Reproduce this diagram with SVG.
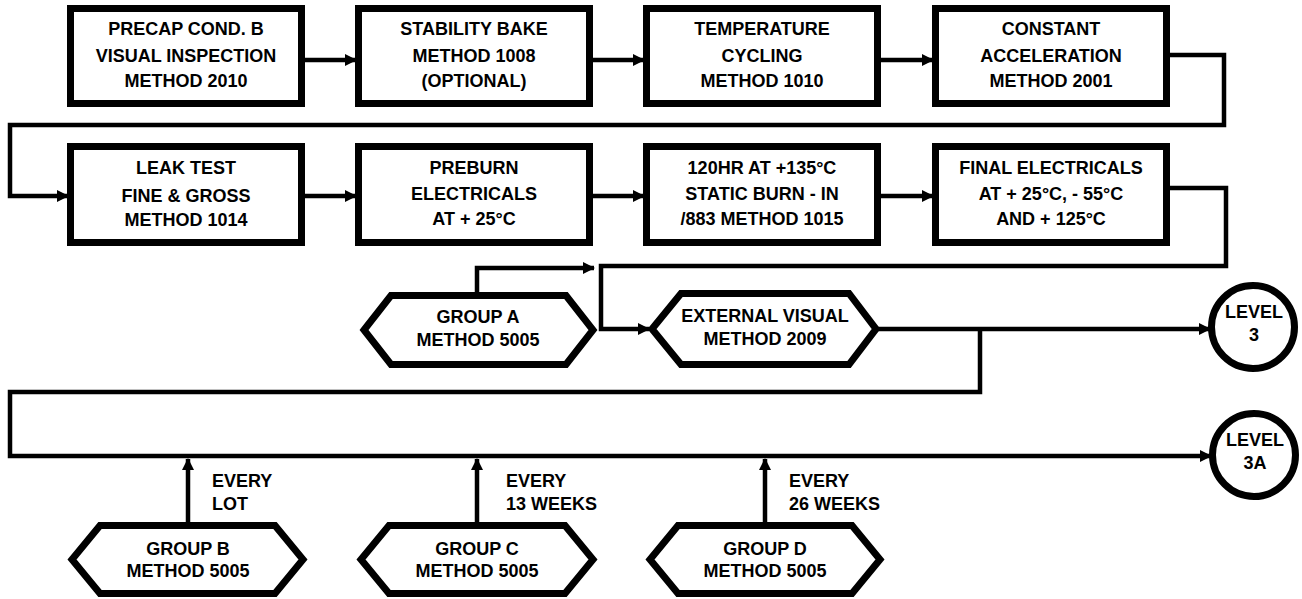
<svg xmlns="http://www.w3.org/2000/svg" width="1302" height="599" viewBox="0 0 1302 599">
<style>
.bg{fill:#fff}
.box{fill:#fff;stroke:#000;stroke-width:7}
.hex{fill:#fff;stroke:#000;stroke-width:7;stroke-linejoin:miter}
.circ{fill:#fff;stroke:#000;stroke-width:7}
.con{fill:none;stroke:#000;stroke-width:4.5}
.t{font-family:"Liberation Sans",Arial,Helvetica,sans-serif;font-weight:bold;font-size:18px;text-anchor:middle;fill:#000}
.l{font-family:"Liberation Sans",Arial,Helvetica,sans-serif;font-weight:bold;font-size:18px;text-anchor:start;fill:#000}
</style>
<defs>
<marker id="ah" viewBox="0 0 12 12" refX="11" refY="6" markerWidth="12" markerHeight="12" markerUnits="userSpaceOnUse" orient="auto">
<path d="M0,0 L12,6 L0,12 z" fill="#000"/>
</marker>
</defs>
<rect class="bg" x="0" y="0" width="1302" height="599"/>

<g id="connectors">
<line class="con" x1="305" y1="60" x2="356" y2="60" marker-end="url(#ah)"/>
<line class="con" x1="593" y1="60" x2="644" y2="60" marker-end="url(#ah)"/>
<line class="con" x1="881" y1="60" x2="933" y2="60" marker-end="url(#ah)"/>
<polyline class="con" points="1170,55 1224,55 1224,125 10,125 10,196 68,196" marker-end="url(#ah)"/>
<line class="con" x1="305" y1="196" x2="356" y2="196" marker-end="url(#ah)"/>
<line class="con" x1="593" y1="196" x2="644" y2="196" marker-end="url(#ah)"/>
<line class="con" x1="881" y1="196" x2="933" y2="196" marker-end="url(#ah)"/>
<polyline class="con" points="1170,188 1226,188 1226,266 601,266 601,329 649,329" marker-end="url(#ah)"/>
<polyline class="con" points="477,292 477,268 594,268" marker-end="url(#ah)"/>
<line class="con" x1="877" y1="329" x2="1210" y2="329" marker-end="url(#ah)"/>
<polyline class="con" points="980,329 980,392 10,392 10,456 1211,456" marker-end="url(#ah)"/>
<line class="con" x1="188" y1="522" x2="188" y2="459" marker-end="url(#ah)"/>
<line class="con" x1="477" y1="522" x2="477" y2="459" marker-end="url(#ah)"/>
<line class="con" x1="765" y1="522" x2="765" y2="459" marker-end="url(#ah)"/>
</g>

<g id="n1"><rect class="box" x="70.5" y="8.5" width="231" height="95"/>
<text class="t" x="186" y="35">PRECAP COND. B</text><text class="t" x="186" y="62">VISUAL INSPECTION</text><text class="t" x="186" y="87">METHOD 2010</text></g>
<g id="n2"><rect class="box" x="358.5" y="8.5" width="231" height="95"/>
<text class="t" x="474" y="35">STABILITY BAKE</text><text class="t" x="474" y="62">METHOD 1008</text><text class="t" x="474" y="87">(OPTIONAL)</text></g>
<g id="n3"><rect class="box" x="646.5" y="8.5" width="231" height="95"/>
<text class="t" x="762" y="35">TEMPERATURE</text><text class="t" x="762" y="62">CYCLING</text><text class="t" x="762" y="87">METHOD 1010</text></g>
<g id="n4"><rect class="box" x="935.5" y="8.5" width="231" height="95"/>
<text class="t" x="1051" y="35">CONSTANT</text><text class="t" x="1051" y="62">ACCELERATION</text><text class="t" x="1051" y="87">METHOD 2001</text></g>

<g id="n5"><rect class="box" x="70.5" y="146.5" width="231" height="96"/>
<text class="t" x="186" y="174">LEAK TEST</text><text class="t" x="186" y="202">FINE &amp; GROSS</text><text class="t" x="186" y="226">METHOD 1014</text></g>
<g id="n6"><rect class="box" x="358.5" y="146.5" width="231" height="96"/>
<text class="t" x="474" y="174">PREBURN</text><text class="t" x="474" y="200">ELECTRICALS</text><text class="t" x="474" y="225">AT + 25°C</text></g>
<g id="n7"><rect class="box" x="646.5" y="146.5" width="231" height="96"/>
<text class="t" x="762" y="174">120HR AT +135°C</text><text class="t" x="762" y="200">STATIC BURN - IN</text><text class="t" x="762" y="225">/883 METHOD 1015</text></g>
<g id="n8"><rect class="box" x="935.5" y="146.5" width="231" height="96"/>
<text class="t" x="1051" y="174">FINAL ELECTRICALS</text><text class="t" x="1051" y="200">AT + 25°C, - 55°C</text><text class="t" x="1051" y="225">AND + 125°C</text></g>

<g id="groupA"><polygon class="hex" points="364,330 391,295.5 566,295.5 593,330 566,364.5 391,364.5"/>
<text class="t" x="478" y="323">GROUP A</text><text class="t" x="478" y="346">METHOD 5005</text></g>
<g id="extvis"><polygon class="hex" points="652,329 681,293.5 849,293.5 876,329 849,364.5 681,364.5"/>
<text class="t" x="765" y="322">EXTERNAL VISUAL</text><text class="t" x="765" y="345">METHOD 2009</text></g>

<g id="level3"><circle class="circ" cx="1253" cy="327" r="41.5"/>
<text class="t" x="1254" y="318">LEVEL</text><text class="t" x="1254" y="341">3</text></g>
<g id="level3a"><circle class="circ" cx="1254" cy="455" r="41.5"/>
<text class="t" x="1255" y="446">LEVEL</text><text class="t" x="1255" y="469">3A</text></g>

<g id="lbl">
<text class="l" x="212" y="487">EVERY</text><text class="l" x="212" y="510">LOT</text>
<text class="l" x="506" y="487">EVERY</text><text class="l" x="506" y="510">13 WEEKS</text>
<text class="l" x="789" y="487">EVERY</text><text class="l" x="789" y="510">26 WEEKS</text>
</g>

<g id="groupB"><polygon class="hex" points="72,559.5 100,525.5 275,525.5 303,559.5 275,593.5 100,593.5"/>
<text class="t" x="188" y="555">GROUP B</text><text class="t" x="188" y="577">METHOD 5005</text></g>
<g id="groupC"><polygon class="hex" points="361,559.5 389,525.5 565,525.5 593,559.5 565,593.5 389,593.5"/>
<text class="t" x="477" y="555">GROUP C</text><text class="t" x="477" y="577">METHOD 5005</text></g>
<g id="groupD"><polygon class="hex" points="650,559.5 678,525.5 852,525.5 880,559.5 852,593.5 678,593.5"/>
<text class="t" x="765" y="555">GROUP D</text><text class="t" x="765" y="577">METHOD 5005</text></g>
</svg>
